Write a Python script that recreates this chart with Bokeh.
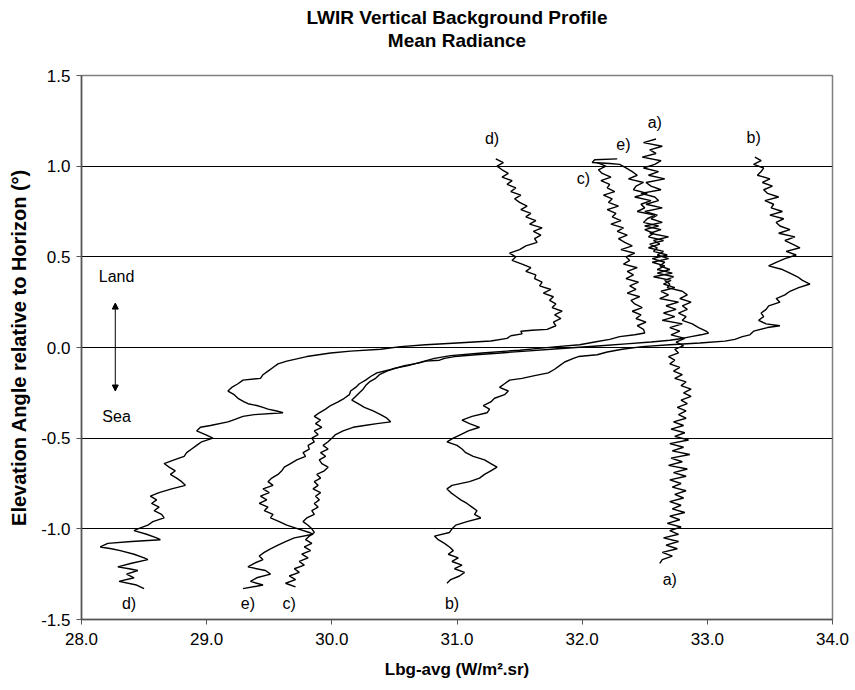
from bokeh.plotting import figure
from bokeh.models import Range1d, FixedTicker, Arrow, NormalHead, PrintfTickFormatter, Title
from bokeh.core.properties import value
from bokeh.embed import file_html
from bokeh.resources import INLINE

# ---- data: (elevation deg, radiance W/m2.sr) ----
CURVE_A = [
    (1.15, 32.59), (1.13, 32.49), (1.11, 32.64), (1.09, 32.54), (1.07, 32.59), (1.05, 32.48), (1.03, 32.63), (1.01, 32.58),
    (0.99, 32.49), (0.97, 32.61), (0.95, 32.53), (0.93, 32.66), (0.91, 32.51), (0.89, 32.55), (0.87, 32.63), (0.85, 32.47),
    (0.83, 32.58), (0.81, 32.61), (0.79, 32.51), (0.77, 32.64), (0.75, 32.50), (0.73, 32.60), (0.71, 32.55), (0.69, 32.64),
    (0.67, 32.50), (0.65, 32.63), (0.63, 32.54), (0.61, 32.69), (0.59, 32.57), (0.57, 32.62), (0.55, 32.53), (0.53, 32.65),
    (0.51, 32.60), (0.49, 32.69), (0.47, 32.56), (0.45, 32.66), (0.43, 32.60), (0.41, 32.72), (0.39, 32.57), (0.37, 32.71),
    (0.35, 32.65), (0.33, 32.74), (0.31, 32.63), (0.29, 32.69), (0.27, 32.62), (0.25, 32.77), (0.23, 32.67), (0.21, 32.75),
    (0.19, 32.65), (0.17, 32.74), (0.15, 32.64), (0.13, 32.80), (0.11, 32.70), (0.09, 32.78), (0.07, 32.71), (0.05, 32.82),
    (0.03, 32.75), (0.01, 32.81), (-0.01, 32.74), (-0.03, 32.77), (-0.05, 32.69), (-0.07, 32.74), (-0.09, 32.70), (-0.11, 32.78),
    (-0.13, 32.73), (-0.15, 32.80), (-0.17, 32.74), (-0.19, 32.83), (-0.21, 32.79), (-0.23, 32.87), (-0.25, 32.81), (-0.27, 32.87),
    (-0.29, 32.79), (-0.31, 32.84), (-0.33, 32.76), (-0.35, 32.83), (-0.37, 32.77), (-0.39, 32.83), (-0.41, 32.73), (-0.43, 32.81),
    (-0.45, 32.71), (-0.47, 32.82), (-0.49, 32.74), (-0.51, 32.85), (-0.53, 32.70), (-0.55, 32.81), (-0.57, 32.72), (-0.59, 32.86),
    (-0.61, 32.71), (-0.63, 32.80), (-0.65, 32.69), (-0.67, 32.84), (-0.69, 32.73), (-0.71, 32.83), (-0.73, 32.70), (-0.75, 32.79),
    (-0.77, 32.72), (-0.79, 32.83), (-0.81, 32.74), (-0.83, 32.81), (-0.85, 32.70), (-0.87, 32.79), (-0.89, 32.72), (-0.91, 32.82),
    (-0.93, 32.70), (-0.95, 32.78), (-0.97, 32.68), (-0.99, 32.79), (-1.01, 32.70), (-1.03, 32.77), (-1.05, 32.65), (-1.07, 32.77),
    (-1.09, 32.67), (-1.11, 32.76), (-1.13, 32.64), (-1.15, 32.72), (-1.17, 32.64), (-1.19, 32.62),
]

CURVE_B = [
    (1.05, 33.38), (1.03, 33.43), (1.01, 33.37), (0.99, 33.45), (0.97, 33.43), (0.95, 33.40), (0.93, 33.50), (0.91, 33.44),
    (0.89, 33.52), (0.87, 33.45), (0.85, 33.48), (0.83, 33.57), (0.81, 33.46), (0.79, 33.53), (0.77, 33.51), (0.75, 33.60),
    (0.73, 33.50), (0.71, 33.61), (0.69, 33.55), (0.67, 33.58), (0.65, 33.66), (0.63, 33.57), (0.61, 33.70), (0.59, 33.62),
    (0.57, 33.68), (0.55, 33.74), (0.53, 33.63), (0.51, 33.71), (0.49, 33.62), (0.47, 33.55), (0.45, 33.49), (0.43, 33.60),
    (0.41, 33.66), (0.39, 33.72), (0.37, 33.76), (0.35, 33.82), (0.33, 33.73), (0.31, 33.66), (0.29, 33.62), (0.27, 33.55),
    (0.25, 33.58), (0.23, 33.49), (0.21, 33.47), (0.19, 33.43), (0.17, 33.45), (0.15, 33.41), (0.13, 33.47), (0.12, 33.58),
    (0.11, 33.48), (0.09, 33.37), (0.07, 33.34), (0.06, 33.28), (0.045, 33.22), (0.035, 33.14), (0.025, 32.94), (0.015, 32.70),
    (0.005, 32.48), (-0.01, 32.32), (-0.025, 32.20), (-0.04, 32.12), (-0.05, 31.97), (-0.06, 31.93), (-0.08, 31.86), (-0.10, 31.82),
    (-0.12, 31.78), (-0.14, 31.73), (-0.155, 31.62), (-0.17, 31.52), (-0.18, 31.42), (-0.20, 31.38), (-0.22, 31.34), (-0.24, 31.41),
    (-0.26, 31.38), (-0.28, 31.30), (-0.30, 31.27), (-0.32, 31.21), (-0.34, 31.26), (-0.36, 31.24), (-0.38, 31.12), (-0.40, 31.04),
    (-0.42, 31.10), (-0.44, 31.18), (-0.46, 31.09), (-0.48, 31.03), (-0.50, 30.97), (-0.52, 30.92), (-0.54, 31.00), (-0.56, 31.04),
    (-0.58, 31.07), (-0.60, 31.13), (-0.62, 31.22), (-0.64, 31.27), (-0.66, 31.32), (-0.68, 31.27), (-0.70, 31.22), (-0.72, 31.18),
    (-0.74, 31.10), (-0.76, 30.96), (-0.78, 30.92), (-0.80, 30.95), (-0.82, 30.99), (-0.84, 31.03), (-0.86, 31.08), (-0.88, 31.12),
    (-0.90, 31.16), (-0.92, 31.14), (-0.94, 31.19), (-0.96, 31.08), (-0.98, 30.99), (-1.00, 30.96), (-1.02, 30.94), (-1.04, 30.82),
    (-1.06, 30.85), (-1.08, 30.90), (-1.10, 30.94), (-1.12, 30.97), (-1.14, 30.93), (-1.16, 31.01), (-1.18, 30.96), (-1.20, 31.04),
    (-1.22, 30.98), (-1.24, 31.06), (-1.26, 31.02), (-1.28, 30.95), (-1.30, 30.92),
]

CURVE_C = [
    (1.02, 32.12), (1.00, 32.19), (0.98, 32.13), (0.96, 32.16), (0.94, 32.23), (0.92, 32.15), (0.90, 32.22), (0.88, 32.20),
    (0.86, 32.26), (0.84, 32.17), (0.82, 32.24), (0.80, 32.21), (0.78, 32.29), (0.76, 32.20), (0.74, 32.27), (0.72, 32.24),
    (0.70, 32.31), (0.68, 32.23), (0.66, 32.33), (0.64, 32.28), (0.62, 32.36), (0.60, 32.29), (0.58, 32.34), (0.56, 32.40),
    (0.54, 32.31), (0.52, 32.42), (0.50, 32.35), (0.48, 32.38), (0.46, 32.33), (0.44, 32.44), (0.42, 32.36), (0.40, 32.41),
    (0.38, 32.35), (0.36, 32.45), (0.34, 32.38), (0.32, 32.43), (0.30, 32.36), (0.28, 32.46), (0.26, 32.39), (0.24, 32.42),
    (0.22, 32.48), (0.20, 32.40), (0.18, 32.47), (0.16, 32.43), (0.14, 32.51), (0.12, 32.44), (0.10, 32.49), (0.08, 32.50),
    (0.07, 32.42), (0.06, 32.30), (0.045, 32.22), (0.03, 32.10), (0.015, 31.98), (0.005, 31.80), (-0.005, 31.65), (-0.015, 31.50),
    (-0.03, 31.20), (-0.045, 30.95), (-0.06, 30.82), (-0.075, 30.74), (-0.09, 30.66), (-0.10, 30.61), (-0.115, 30.50), (-0.13, 30.44),
    (-0.15, 30.38), (-0.17, 30.35), (-0.19, 30.30), (-0.21, 30.27), (-0.23, 30.25), (-0.25, 30.22), (-0.27, 30.19), (-0.29, 30.16),
    (-0.31, 30.21), (-0.33, 30.26), (-0.35, 30.33), (-0.37, 30.39), (-0.39, 30.44), (-0.41, 30.47), (-0.42, 30.36), (-0.43, 30.26),
    (-0.44, 30.17), (-0.46, 30.09), (-0.48, 30.03), (-0.50, 30.00), (-0.52, 29.97), (-0.54, 29.93), (-0.56, 29.97), (-0.58, 29.91),
    (-0.60, 29.95), (-0.62, 29.90), (-0.64, 29.92), (-0.66, 29.97), (-0.68, 29.94), (-0.70, 29.88), (-0.72, 29.91), (-0.74, 29.86),
    (-0.76, 29.89), (-0.78, 29.85), (-0.80, 29.91), (-0.82, 29.87), (-0.84, 29.90), (-0.86, 29.86), (-0.88, 29.89), (-0.90, 29.84),
    (-0.92, 29.86), (-0.94, 29.80), (-0.96, 29.77), (-0.98, 29.81), (-1.00, 29.84), (-1.02, 29.86), (-1.04, 29.82), (-1.06, 29.79),
    (-1.08, 29.84), (-1.10, 29.78), (-1.12, 29.83), (-1.14, 29.76), (-1.16, 29.81), (-1.18, 29.74), (-1.20, 29.78), (-1.22, 29.70),
    (-1.24, 29.74), (-1.26, 29.66), (-1.28, 29.71), (-1.30, 29.63), (-1.32, 29.71),
]

CURVE_D = [
    (1.04, 31.31), (1.02, 31.37), (1.00, 31.32), (0.98, 31.36), (0.96, 31.41), (0.94, 31.36), (0.92, 31.44), (0.90, 31.40),
    (0.88, 31.47), (0.86, 31.43), (0.84, 31.51), (0.82, 31.46), (0.80, 31.50), (0.78, 31.56), (0.76, 31.51), (0.74, 31.59),
    (0.72, 31.55), (0.70, 31.63), (0.68, 31.58), (0.66, 31.68), (0.64, 31.61), (0.62, 31.67), (0.60, 31.62), (0.58, 31.64),
    (0.56, 31.55), (0.54, 31.50), (0.52, 31.42), (0.50, 31.47), (0.48, 31.44), (0.46, 31.52), (0.44, 31.59), (0.42, 31.55),
    (0.40, 31.63), (0.38, 31.62), (0.36, 31.68), (0.34, 31.66), (0.32, 31.75), (0.30, 31.69), (0.28, 31.77), (0.26, 31.74),
    (0.24, 31.79), (0.22, 31.76), (0.20, 31.84), (0.18, 31.78), (0.16, 31.83), (0.14, 31.77), (0.12, 31.79), (0.10, 31.72),
    (0.095, 31.60), (0.09, 31.51), (0.075, 31.52), (0.065, 31.43), (0.05, 31.40), (0.036, 31.27), (0.025, 31.00), (0.015, 30.75),
    (0.005, 30.55), (-0.01, 30.39), (-0.02, 30.15), (-0.03, 29.99), (-0.05, 29.80), (-0.075, 29.64), (-0.09, 29.57), (-0.11, 29.53),
    (-0.13, 29.49), (-0.15, 29.45), (-0.17, 29.43), (-0.18, 29.29), (-0.20, 29.25), (-0.22, 29.20), (-0.24, 29.17), (-0.26, 29.22),
    (-0.28, 29.25), (-0.30, 29.30), (-0.31, 29.33), (-0.32, 29.40), (-0.33, 29.45), (-0.34, 29.49), (-0.35, 29.56), (-0.36, 29.61),
    (-0.37, 29.38), (-0.38, 29.29), (-0.40, 29.21), (-0.41, 29.17), (-0.43, 29.03), (-0.44, 28.95), (-0.46, 28.92), (-0.48, 28.99),
    (-0.50, 29.05), (-0.52, 28.96), (-0.54, 28.92), (-0.56, 28.88), (-0.58, 28.84), (-0.60, 28.82), (-0.62, 28.74), (-0.64, 28.66),
    (-0.66, 28.70), (-0.68, 28.75), (-0.70, 28.71), (-0.72, 28.76), (-0.74, 28.80), (-0.76, 28.83), (-0.78, 28.72), (-0.80, 28.62),
    (-0.82, 28.55), (-0.84, 28.60), (-0.86, 28.56), (-0.88, 28.62), (-0.90, 28.58), (-0.92, 28.64), (-0.94, 28.66), (-0.96, 28.57),
    (-0.98, 28.53), (-1.00, 28.45), (-1.01, 28.42), (-1.03, 28.52), (-1.05, 28.60), (-1.06, 28.63), (-1.07, 28.40), (-1.08, 28.21),
    (-1.10, 28.15), (-1.11, 28.24), (-1.12, 28.31), (-1.14, 28.42), (-1.16, 28.50), (-1.17, 28.53), (-1.19, 28.40), (-1.21, 28.29),
    (-1.22, 28.38), (-1.23, 28.45), (-1.25, 28.36), (-1.27, 28.42), (-1.29, 28.30), (-1.31, 28.44), (-1.33, 28.50),
]

CURVE_E = [
    (1.04, 32.28), (1.035, 32.10), (1.02, 32.08), (1.015, 32.22), (1.01, 32.30), (0.99, 32.35), (0.97, 32.40), (0.95, 32.44),
    (0.93, 32.37), (0.91, 32.49), (0.89, 32.43), (0.87, 32.41), (0.85, 32.52), (0.83, 32.42), (0.81, 32.55), (0.79, 32.47),
    (0.77, 32.50), (0.75, 32.44), (0.73, 32.58), (0.71, 32.52), (0.69, 32.49), (0.67, 32.61), (0.65, 32.50), (0.63, 32.57),
    (0.61, 32.53), (0.59, 32.65), (0.57, 32.54), (0.55, 32.60), (0.53, 32.57), (0.51, 32.68), (0.49, 32.56), (0.47, 32.66),
    (0.45, 32.62), (0.43, 32.70), (0.41, 32.60), (0.39, 32.73), (0.37, 32.66), (0.35, 32.70), (0.33, 32.68), (0.31, 32.80),
    (0.29, 32.84), (0.27, 32.78), (0.25, 32.87), (0.23, 32.80), (0.21, 32.84), (0.19, 32.77), (0.17, 32.83), (0.15, 32.80),
    (0.13, 32.88), (0.11, 32.93), (0.09, 32.99), (0.08, 33.01), (0.07, 32.95), (0.06, 32.87), (0.05, 32.80), (0.04, 32.70),
    (0.03, 32.55), (0.02, 32.35), (0.01, 32.15), (0.00, 31.95), (-0.01, 31.75), (-0.02, 31.55), (-0.03, 31.35), (-0.04, 31.15),
    (-0.05, 30.98), (-0.06, 30.90), (-0.07, 30.86), (-0.075, 30.75), (-0.085, 30.70), (-0.10, 30.58), (-0.12, 30.48), (-0.14, 30.36),
    (-0.16, 30.31), (-0.18, 30.27), (-0.20, 30.22), (-0.22, 30.19), (-0.24, 30.15), (-0.26, 30.14), (-0.28, 30.10), (-0.30, 30.05),
    (-0.32, 29.99), (-0.34, 29.95), (-0.36, 29.90), (-0.38, 29.86), (-0.40, 29.91), (-0.42, 29.87), (-0.44, 29.92), (-0.46, 29.86),
    (-0.48, 29.89), (-0.50, 29.84), (-0.52, 29.86), (-0.54, 29.81), (-0.56, 29.82), (-0.58, 29.77), (-0.60, 29.79), (-0.62, 29.72),
    (-0.64, 29.67), (-0.66, 29.62), (-0.68, 29.60), (-0.70, 29.57), (-0.72, 29.52), (-0.74, 29.49), (-0.76, 29.53), (-0.78, 29.45),
    (-0.80, 29.50), (-0.82, 29.43), (-0.84, 29.48), (-0.86, 29.42), (-0.88, 29.49), (-0.90, 29.46), (-0.92, 29.53), (-0.94, 29.51),
    (-0.96, 29.58), (-0.98, 29.64), (-1.00, 29.73), (-1.02, 29.82), (-1.03, 29.85), (-1.05, 29.70), (-1.07, 29.63), (-1.09, 29.57),
    (-1.11, 29.51), (-1.13, 29.46), (-1.15, 29.42), (-1.17, 29.45), (-1.19, 29.38), (-1.21, 29.33), (-1.23, 29.47), (-1.25, 29.51),
    (-1.27, 29.40), (-1.29, 29.35), (-1.31, 29.45), (-1.33, 29.29),
]

CURVE_LABELS = ["a)", "b)", "c)", "d)", "e)", "a)", "b)", "c)", "d)", "e)"]
LABEL_X = [32.58, 33.37, 32.01, 31.28, 32.33, 32.70, 30.96, 29.66, 28.38, 29.33]
LABEL_Y = [1.24, 1.16, 0.93, 1.15, 1.12, -1.28, -1.41, -1.41, -1.41, -1.41]

ZONE_LABELS = ["Land", "Sea"]
ZONE_X = [28.28, 28.28]
ZONE_Y = [0.39, -0.38]
ARROW_X = 28.27
ARROW_Y = [-0.24, 0.245]

X_TICKS = [28.0, 29.0, 30.0, 31.0, 32.0, 33.0, 34.0]
Y_TICKS = [-1.5, -1.0, -0.5, 0.0, 0.5, 1.0, 1.5]
GRID_Y = [-1.0, -0.5, 0.0, 0.5, 1.0]

TITLE_MAIN = "LWIR Vertical Background Profile"
TITLE_SUB = "Mean Radiance"
FONT = "Liberation Sans"

p = figure(width=855, height=690, x_range=Range1d(28, 34), y_range=Range1d(-1.5, 1.5),
           output_backend="svg", toolbar_location=None,
           min_border_left=81, min_border_right=23, min_border_top=75, min_border_bottom=71,
           title=TITLE_MAIN)
p.background_fill_color = "white"
p.border_fill_color = "white"
p.outline_line_color = "#808080"
p.outline_line_width = 1.5

# title panels are stacked outward from the frame: spacer, subtitle, then main title
p.add_layout(Title(text=" ", text_font=FONT, text_font_size="19px", standoff=2), "above")
p.add_layout(Title(text=TITLE_SUB, text_font=FONT, text_font_size="19px", text_color="black",
                   text_font_style="bold", align="center", standoff=0), "above")
p.title.text_font = FONT
p.title.text_font_size = "19px"
p.title.text_font_style = "bold"
p.title.text_color = "black"
p.title.align = "center"
p.title.standoff = 0

for ax in (p.xaxis[0], p.yaxis[0]):
    ax.axis_line_color = "#555555"
    ax.axis_line_width = 1.5
    ax.major_tick_line_color = "#555555"
    ax.major_tick_in = 0
    ax.major_tick_out = 5
    ax.minor_tick_line_color = None
    ax.major_label_text_font = FONT
    ax.major_label_text_font_size = "17px"
    ax.major_label_text_color = "black"
    ax.axis_label_text_font = FONT
    ax.axis_label_text_font_size = "17px"
    ax.axis_label_text_font_style = "bold"
    ax.axis_label_text_color = "black"
    ax.formatter = PrintfTickFormatter(format="%.1f")

p.xaxis.ticker = FixedTicker(ticks=X_TICKS)
p.yaxis.ticker = FixedTicker(ticks=Y_TICKS)
p.xaxis.axis_label = "Lbg-avg (W/m\u00b2.sr)"
p.yaxis.axis_label = "Elevation Angle relative to Horizon (\u00b0)"
p.yaxis.axis_label_text_font_size = "20px"
p.xaxis.major_label_standoff = 8
p.yaxis.major_label_standoff = 6
p.xaxis.axis_label_standoff = 12
p.yaxis.axis_label_standoff = 8

p.xgrid.visible = False
p.ygrid.ticker = FixedTicker(ticks=GRID_Y)
p.ygrid.grid_line_color = "black"
p.ygrid.grid_line_width = 1

for curve in (CURVE_A, CURVE_B, CURVE_C, CURVE_D, CURVE_E):
    elev = [pt[0] for pt in curve]
    rad = [pt[1] for pt in curve]
    p.line(rad, elev, line_color="black", line_width=1.4)

p.text(x=LABEL_X, y=LABEL_Y, text=CURVE_LABELS, text_font=value(FONT), text_font_size="16px",
       text_align="center", text_baseline="middle", text_color="black")
p.text(x=ZONE_X, y=ZONE_Y, text=ZONE_LABELS, text_font=value(FONT), text_font_size="16px",
       text_align="center", text_baseline="middle", text_color="black")
p.add_layout(Arrow(start=NormalHead(size=6, fill_color="black", line_color="black"),
                   end=NormalHead(size=6, fill_color="black", line_color="black"),
                   x_start=ARROW_X, y_start=ARROW_Y[0], x_end=ARROW_X, y_end=ARROW_Y[1],
                   line_color="black", line_width=1))

open("out.html", "w").write(file_html(p, INLINE))
